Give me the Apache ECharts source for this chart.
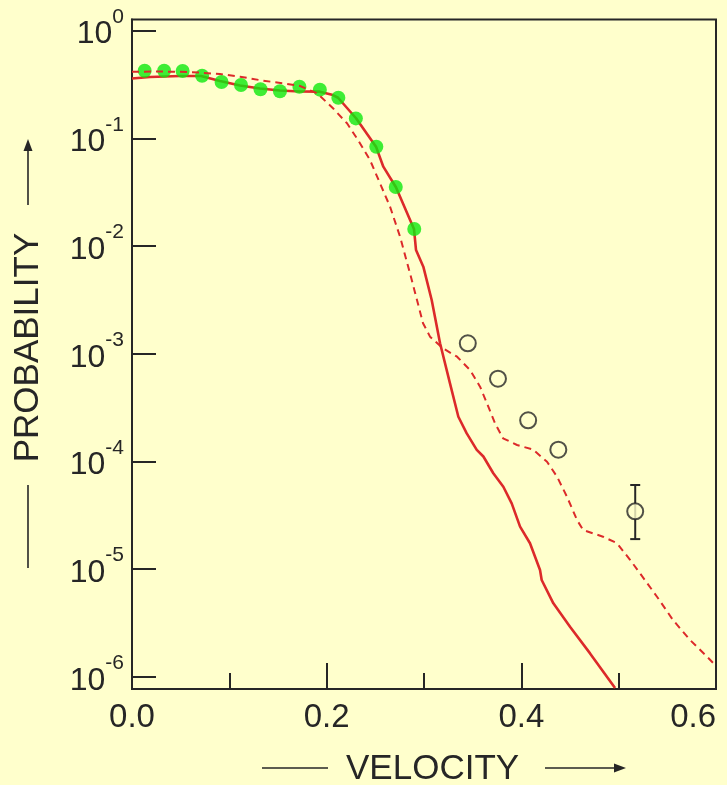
<!DOCTYPE html>
<html>
<head>
<meta charset="utf-8">
<script src="https://cdn.jsdelivr.net/npm/echarts@6/dist/echarts.min.js"></script>
<style>
html,body{margin:0;padding:0;background:#ffffcc;}
#c{width:727px;height:785px;}
</style>
</head>
<body>
<div id="c"></div>
<script>
// ---- data ----
const yTickExponents = [-6, -5, -4, -3, -2, -1, 0];
const xMajorTicks = [0, 0.2, 0.4, 0.6];
const xMinorTicks = [0.1, 0.3, 0.5];

const solidV = [0.000,0.0185,0.0493,0.0709,0.0904,0.111,0.1315,0.152,0.1726,0.193,0.2065,0.2117,0.2302,0.2507,0.2582,0.2712,0.2897,0.2918,0.2993,0.3079,0.3165,0.3267,0.3353,0.3439,0.3542,0.361,0.3712,0.3815,0.3901,0.3987,0.4089,0.4192,0.4209,0.4329,0.450,0.4706,0.4963];
const solidP = [0.359,0.371,0.379,0.379,0.340,0.309,0.290,0.278,0.272,0.271,0.252,0.238,0.1535,0.0836,0.0545,0.0351,0.01439,9.18e-3,6.43e-3,3.15e-3,1.25e-3,5.31e-4,2.60e-4,1.82e-4,1.28e-4,1.11e-4,7.76e-5,5.82e-5,4.08e-5,2.48e-5,1.74e-5,9.82e-6,7.93e-6,4.81e-6,2.92e-6,1.65e-6,7.87e-7];

const dashV = [0.000,0.0288,0.0596,0.0904,0.111,0.1346,0.1551,0.1726,0.1901,0.2065,0.2209,0.2322,0.2445,0.2548,0.2651,0.2754,0.2856,0.2928,0.299,0.3062,0.3196,0.334,0.3473,0.3576,0.3647,0.373,0.3812,0.3956,0.412,0.4264,0.4367,0.4469,0.4572,0.4634,0.4839,0.4983,0.5117,0.5219,0.5394,0.5558,0.5733,0.5908,0.600];
const dashP = [0.415,0.417,0.4125,0.3955,0.373,0.343,0.324,0.306,0.262,0.190,0.1378,0.0964,0.0629,0.0382,0.0232,0.0122,5.58e-3,3.15e-3,1.92e-3,1.44e-3,1.12e-3,9.38e-4,7.06e-4,4.94e-4,3.46e-4,2.26e-4,1.64e-4,1.42e-4,1.29e-4,9.93e-5,7.21e-5,4.70e-5,2.86e-5,2.31e-5,2.00e-5,1.74e-5,1.22e-5,9.15e-6,5.54e-6,3.37e-6,2.20e-6,1.54e-6,1.26e-6];

const greenV = [0.013,0.033,0.052,0.072,0.092,0.112,0.132,0.152,0.172,0.193,0.212,0.230,0.251,0.271,0.290];
const greenP = [0.424,0.424,0.422,0.381,0.333,0.313,0.285,0.273,0.301,0.283,0.238,0.153,0.0836,0.0353,0.0144];

const openV = [0.345,0.376,0.407,0.438,0.517];
const openP = [1.25e-3,5.86e-4,2.41e-4,1.285e-4,3.44e-5];

const errV = [0.517];
const errLow = [1.9e-5];
const errHigh = [6.04e-5];

// ---- build ----
const lg = Math.log10;
const pairs = (vs, ps) => vs.map((v, i) => [v, lg(ps[i])]);

const chart = echarts.init(document.getElementById('c'), null, {renderer: 'canvas'});
const INK = '#262626';
const RED = '#dc2a2a';
const FONT = '"Liberation Sans", Arial, sans-serif';

const xAxisBase = {
  type: 'value', min: 0, max: 0.6, position: 'bottom', offset: 0, gridIndex: 0,
  splitLine: {show: false}
};

const option = {
  backgroundColor: '#ffffcc',
  animation: false,
  grid: {left: 132, right: 11, top: 19.5, bottom: 96, show: true, borderColor: INK, borderWidth: 2,
         backgroundColor: 'transparent', containLabel: false, outerBoundsMode: 'none'},
  xAxis: [
    Object.assign({}, xAxisBase, {
      axisLine: {show: true, onZero: false, lineStyle: {color: INK, width: 2}},
      axisTick: {show: true, inside: true, length: 26, customValues: xMajorTicks, lineStyle: {color: INK, width: 2}},
      axisLabel: {
        show: true, margin: 12, color: INK, fontFamily: FONT, fontSize: 33,
        customValues: xMajorTicks, alignMaxLabel: 'right',
        formatter: v => v.toFixed(1)
      }
    }),
    Object.assign({}, xAxisBase, {
      axisLine: {show: false, onZero: false},
      axisTick: {show: true, inside: true, length: 16, customValues: xMinorTicks, lineStyle: {color: INK, width: 2}},
      axisLabel: {show: false}
    })
  ],
  yAxis: {
    type: 'value', min: -6.113, max: 0.103,
    axisLine: {show: true, onZero: false, lineStyle: {color: INK, width: 2}},
    axisTick: {show: true, inside: true, length: 24, customValues: yTickExponents, lineStyle: {color: INK, width: 2}},
    splitLine: {show: false},
    axisLabel: {
      show: true, margin: 8, customValues: yTickExponents,
      padding: [8, 0, 0, 0],
      formatter: v => '{b|10}{s|' + Math.round(v) + '}',
      rich: {
        b: {fontFamily: FONT, fontSize: 32, color: INK, lineHeight: 56},
        s: {fontFamily: FONT, fontSize: 21, color: INK, lineHeight: 21, verticalAlign: 'top'}
      }
    }
  },
  series: [
    {
      name: 'solid', type: 'line', data: pairs(solidV, solidP), showSymbol: false, symbol: 'none',
      lineStyle: {color: RED, width: 2.6}, z: 2
    },
    {
      name: 'green', type: 'scatter', data: pairs(greenV, greenP), symbol: 'circle', symbolSize: 14,
      itemStyle: {color: '#0ee80e'}, z: 3
    },
    {
      name: 'dashed', type: 'line', data: pairs(dashV, dashP), showSymbol: false, symbol: 'none',
      lineStyle: {color: RED, width: 2, type: [7, 5]}, z: 4
    },
    {
      name: 'err', type: 'custom', z: 5,
      data: errV.map((v, i) => [v, lg(errLow[i]), lg(errHigh[i])]),
      renderItem: (params, api) => {
        const lo = api.coord([api.value(0), api.value(1)]);
        const hi = api.coord([api.value(0), api.value(2)]);
        const st = {stroke: INK, lineWidth: 2};
        return {type: 'group', children: [
          {type: 'line', shape: {x1: lo[0], y1: lo[1], x2: hi[0], y2: hi[1]}, style: st},
          {type: 'line', shape: {x1: lo[0] - 5, y1: lo[1], x2: lo[0] + 5, y2: lo[1]}, style: st},
          {type: 'line', shape: {x1: hi[0] - 5, y1: hi[1], x2: hi[0] + 5, y2: hi[1]}, style: st}
        ]};
      }
    },
    {
      name: 'open', type: 'scatter', data: pairs(openV, openP), symbol: 'circle', symbolSize: 16,
      itemStyle: {color: '#ffffcc', borderColor: INK, borderWidth: 2}, z: 6
    }
  ],
  graphic: [
    // x title
    {type: 'line', shape: {x1: 262, y1: 768, x2: 328, y2: 768}, style: {stroke: INK, lineWidth: 1.6}},
    {type: 'text', x: 346, y: 769, style: {text: 'VELOCITY', font: '35px ' + FONT, fill: INK, align: 'left', verticalAlign: 'middle'}},
    {type: 'line', shape: {x1: 545, y1: 768, x2: 616, y2: 768}, style: {stroke: INK, lineWidth: 1.6}},
    {type: 'polygon', shape: {points: [[626, 768], [614, 763.5], [614, 772.5]]}, style: {fill: INK}},
    // y title
    {type: 'line', shape: {x1: 28, y1: 568, x2: 28, y2: 485}, style: {stroke: INK, lineWidth: 1.6}},
    {type: 'text', x: 28, y: 347.5, rotation: Math.PI / 2, style: {text: 'PROBABILITY', font: '35px ' + FONT, fill: INK, align: 'center', verticalAlign: 'middle'}},
    {type: 'line', shape: {x1: 28, y1: 205, x2: 28, y2: 149}, style: {stroke: INK, lineWidth: 1.6}},
    {type: 'polygon', shape: {points: [[28, 139], [23.5, 151], [32.5, 151]]}, style: {fill: INK}}
  ]
};
chart.setOption(option);
</script>
</body>
</html>
